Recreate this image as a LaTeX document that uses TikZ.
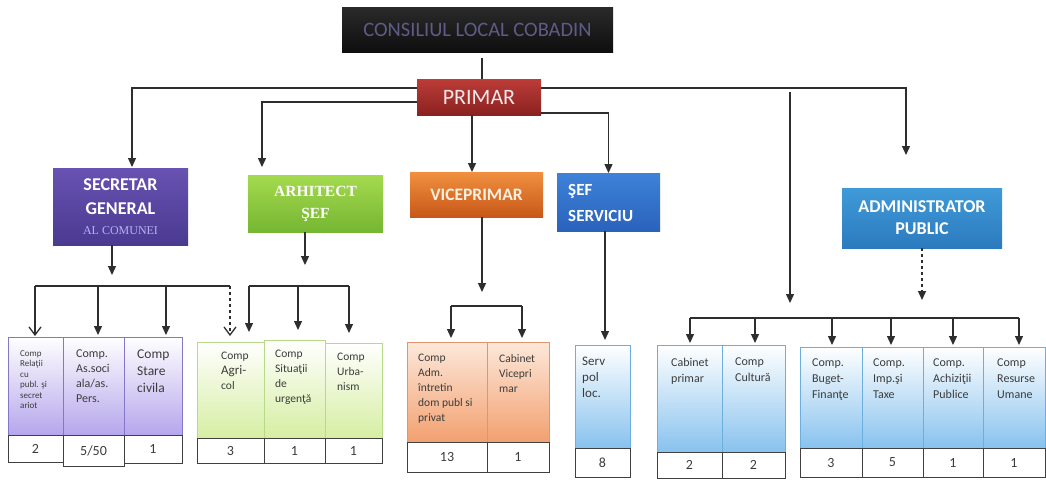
\documentclass[tikz,border=0pt]{standalone}
\usepackage{fontspec}
\setmainfont{Carlito}
\newfontfamily\serifft{Liberation Serif}
\usetikzlibrary{arrows.meta,calc}
\definecolor{linec}{HTML}{2E2E2E}
\definecolor{titletop}{HTML}{2A2A2A}
\definecolor{titlebot}{HTML}{0E0E0E}
\definecolor{titletxt}{HTML}{5E5C86}
\definecolor{primtop}{HTML}{BC3C38}
\definecolor{primbot}{HTML}{8A2220}
\definecolor{secrtop}{HTML}{6852B2}
\definecolor{secrbot}{HTML}{4A3A90}
\definecolor{comunei}{HTML}{B8B0F2}
\definecolor{arhtop}{HTML}{A4DA4E}
\definecolor{arhbot}{HTML}{76B632}
\definecolor{vicetop}{HTML}{F09040}
\definecolor{vicebot}{HTML}{C85818}
\definecolor{seftop}{HTML}{3E82D8}
\definecolor{sefbot}{HTML}{2A62BC}
\definecolor{admtop}{HTML}{409AD8}
\definecolor{admbot}{HTML}{2B7BBE}
\definecolor{purbot}{HTML}{B5A6EC}
\definecolor{purbrd}{HTML}{8576C8}
\definecolor{grnbot}{HTML}{D6EEA2}
\definecolor{grnbrd}{HTML}{B6DA86}
\definecolor{ortop}{HTML}{FDE8DA}
\definecolor{orbot}{HTML}{F2A070}
\definecolor{orbrd}{HTML}{E2946A}
\definecolor{blbot}{HTML}{88C2EE}
\definecolor{blbrd}{HTML}{6CAEDE}
\definecolor{numbrd}{HTML}{404040}
\definecolor{celltxt}{HTML}{3C3C3C}
\newcommand\orgcell[9]{%
  \node[cell,#6,minimum width=#4pt,minimum height=#5pt] (#1) at (#2,#3) {};
  \node[celltext,font=#8] (#1t) at ([#7]#1.north west) {#9};}
\newcommand\numcell[6]{%
  \node[numc,minimum width=#4pt,minimum height=#5pt] (#1) at (#2,#3) {#6};}
\begin{document}
\begin{tikzpicture}[x=1pt,y=-1pt,
  conn/.style={draw=linec,line width=1.3pt},
  arr/.style={conn,-{Triangle[length=9pt,width=8pt]}},
  oarr/.style={conn,-{Straight Barb[length=8pt,width=12pt]}},
  head/.style={anchor=north west,inner sep=0pt,outer sep=0pt,text=white,align=center,
    font=\bfseries\fontsize{15.5}{24}\selectfont},
  cell/.style={anchor=north west,inner sep=0pt,outer sep=0pt,line width=0.9pt},
  purc/.style={draw=purbrd,top color=white,bottom color=purbot},
  grnc/.style={draw=grnbrd,top color=white,bottom color=grnbot},
  orc/.style={draw=orbrd,top color=ortop,bottom color=orbot},
  blc/.style={draw=blbrd,top color=white,bottom color=blbot},
  celltext/.style={anchor=north west,inner sep=0pt,align=left,text=celltxt},
  numc/.style={anchor=north west,inner sep=0pt,outer sep=0pt,draw=numbrd,fill=white,
    line width=1pt,text=celltxt,font=\fontsize{14}{14}\selectfont}]
\useasboundingbox[fill=white] (0,0) rectangle (1046,479);

% ---------- top level ----------
\node[head,top color=titletop,bottom color=titlebot,minimum width=271pt,minimum height=45pt,
  text=titletxt,font=\fontsize{20.5}{20.5}\selectfont] (title) at (342,7) {CONSILIUL LOCAL COBADIN};
\node[head,top color=primtop,bottom color=primbot,minimum width=124pt,minimum height=36pt,
  text={rgb,255:red,246;green,232;blue,232},font=\fontsize{22}{22}\selectfont] (primar) at (417,79) {PRIMAR};

% ---------- second level ----------
\node[head,top color=secrtop,bottom color=secrbot,minimum width=135pt,minimum height=77pt,
  font=\bfseries\fontsize{18}{24}\selectfont] (secretar) at (53,168)
  {SECRETAR\\GENERAL\\[-4pt]{\serifft\mdseries\fontsize{12}{12}\selectfont\color{comunei}AL COMUNEI}};
\node[head,top color=arhtop,bottom color=arhbot,minimum width=135pt,minimum height=57pt,
  font=\serifft\bfseries\fontsize{15.5}{22}\selectfont] (arhitect) at (248,175) {ARHITECT\\ŞEF};
\node[head,top color=vicetop,bottom color=vicebot,minimum width=133pt,minimum height=45pt,
  font=\bfseries\fontsize{17.5}{20}\selectfont,
  text={rgb,255:red,250;green,240;blue,226}] (vice) at (410,172) {VICEPRIMAR};
\node[head,top color=seftop,bottom color=sefbot,minimum width=103pt,minimum height=58pt] (sef) at (557,173) {};
\node[anchor=west,inner sep=0pt,align=left,text=white,font=\bfseries\fontsize{17}{26}\selectfont]
  (seft) at ([xshift=11pt,yshift=-1pt]sef.west) {ŞEF\\SERVICIU};
\node[head,top color=admtop,bottom color=admbot,minimum width=160pt,minimum height=60pt,
  font=\bfseries\fontsize{18}{22}\selectfont] (admin) at (842,188) {ADMINISTRATOR\\PUBLIC};

% ---------- bottom cells ----------
\orgcell{s1}{8}{337}{55}{98}{purc}{xshift=12pt,yshift=-13pt}{\fontsize{9}{10.5}\selectfont}{Comp\\Relaţii\\cu\\publ. şi\\secret\\ariot}
\orgcell{s2}{63}{337}{61}{98}{purc}{xshift=13pt,yshift=-13pt}{\fontsize{12}{15}\selectfont}{Comp.\\As.soci\\ala/as.\\Pers.}
\orgcell{s3}{124}{337}{58}{98}{purc}{xshift=13pt,yshift=-13pt}{\fontsize{13.5}{17}\selectfont}{Comp\\Stare\\civila}
\numcell{ns1}{8}{435}{55}{27}{2}
\numcell{ns2}{63}{435}{61}{31}{5/50}
\numcell{ns3}{124}{435}{58}{28}{1}

\orgcell{a1}{197}{342}{67}{96}{grnc}{xshift=24pt,yshift=-10pt}{\fontsize{11.5}{15}\selectfont}{Comp\\{\fontsize{13}{15}\selectfont Agri-}\\col}
\orgcell{a2}{264}{340}{61}{98}{grnc}{xshift=11pt,yshift=-10pt}{\fontsize{11.5}{15}\selectfont}{Comp\\Situaţii\\de\\urgenţă}
\orgcell{a3}{325}{343}{57}{95}{grnc}{xshift=12pt,yshift=-10pt}{\fontsize{11.5}{15}\selectfont}{Comp\\Urba-\\nism}
\numcell{na1}{197}{438}{67}{25}{3}
\numcell{na2}{264}{438}{61}{25}{1}
\numcell{na3}{325}{438}{57}{25}{1}

\orgcell{v1}{407}{342}{80}{100}{orc}{xshift=11pt,yshift=-12pt}{\fontsize{11.5}{15}\selectfont}{Comp\\Adm.\\întretin\\dom publ si\\privat}
\orgcell{v2}{487}{342}{62}{100}{orc}{xshift=12pt,yshift=-12pt}{\fontsize{11.5}{15}\selectfont}{Cabinet\\Vicepri\\mar}
\numcell{nv1}{407}{442}{80}{30}{13}
\numcell{nv2}{487}{442}{62}{30}{1}

\orgcell{p1}{575}{345}{55}{103}{blc}{xshift=7pt,yshift=-12pt}{\fontsize{13}{16}\selectfont}{Serv\\pol\\loc.}
\numcell{np1}{575}{448}{55}{29}{8}

\orgcell{c1}{657}{345}{65}{107}{blc}{xshift=14pt,yshift=-13pt}{\fontsize{12}{16}\selectfont}{Cabinet\\primar}
\orgcell{c2}{722}{345}{63}{107}{blc}{xshift=13pt,yshift=-13pt}{\fontsize{12}{16}\selectfont}{Comp\\Cultură}
\orgcell{c3}{800}{347}{62}{101}{blc}{xshift=12pt,yshift=-12pt}{\fontsize{12}{16}\selectfont}{Comp.\\Buget-\\Finanţe}
\orgcell{c4}{862}{347}{61}{101}{blc}{xshift=11pt,yshift=-12pt}{\fontsize{12}{16}\selectfont}{Comp.\\Imp.şi\\Taxe}
\orgcell{c5}{923}{347}{60}{101}{blc}{xshift=10pt,yshift=-12pt}{\fontsize{12}{16}\selectfont}{Comp.\\Achiziţii\\Publice}
\orgcell{c6}{983}{347}{62}{101}{blc}{xshift=14pt,yshift=-12pt}{\fontsize{12}{16}\selectfont}{Comp\\Resurse\\Umane}
\numcell{nc1}{657}{452}{65}{26}{2}
\numcell{nc2}{722}{452}{63}{26}{2}
\numcell{nc3}{800}{448}{62}{29}{3}
\numcell{nc4}{862}{448}{61}{29}{5}
\numcell{nc5}{923}{448}{60}{29}{1}
\numcell{nc6}{983}{448}{62}{29}{1}

% ---------- coordinates ----------
\coordinate (pTop) at (482,58);
\coordinate (secTip) at (132,167);
\coordinate (arhTip) at (262,167);
\coordinate (admTip) at (906,155);
\coordinate (midTop) at (790,88);
\coordinate (midTip) at (790,303);
\coordinate (admDash) at (922,300);
\coordinate (sDown) at (112,275);
\coordinate (sb1) at (35,286);
\coordinate (sb2) at (98,286);
\coordinate (sb3) at (166,286);
\coordinate (sb4) at (230,286);
\coordinate (aDown) at (305,265);
\coordinate (ab1) at (249,286);
\coordinate (ab2) at (298,286);
\coordinate (ab3) at (349,286);
\coordinate (vDown) at (482,292);
\coordinate (vb1) at (451,306);
\coordinate (vb2) at (522,306);
\coordinate (pTip) at (605,340);
\coordinate (cb1) at (690,318);
\coordinate (cb2) at (755,318);
\coordinate (cb3) at (832,318);
\coordinate (cb4) at (891,318);
\coordinate (cb5) at (953,318);
\coordinate (cb6) at (1019,318);

% ---------- connectors from the top ----------
\draw[conn] (pTop) -- (pTop |- primar.north);
\draw[arr] ([yshift=9pt]primar.west) -| (secTip);
\draw[arr] ([yshift=-5pt]primar.west) -| (arhTip);
\draw[arr] ([xshift=-7pt]primar.south) -- ([xshift=-7pt]primar.south |- vice.north);
\draw[arr] ([yshift=9pt]primar.east) -| (admTip);
\draw[arr] ([yshift=-16pt]primar.east) -| (sef.north);
\draw[arr] ([yshift=-4pt]midTop) -- (midTip);
\draw[arr,dashed] (admin.south -| admDash) -- (admDash);

% ---------- secretar group ----------
\draw[arr] (secretar.south -| sDown) -- (sDown);
\draw[conn] (sb1) -- (sb4);
\draw[oarr,shorten >=1pt] (sb1) -- (sb1 |- s1.north);
\draw[arr,shorten >=2pt] (sb2) -- (sb2 |- s2.north);
\draw[arr,shorten >=2pt] (sb3) -- (sb3 |- s3.north);
\draw[oarr,dashed,shorten >=6pt] (sb4) -- (sb4 |- a1.north);

% ---------- arhitect group ----------
\draw[arr] (arhitect.south -| aDown) -- (aDown);
\draw[conn] (ab1) -- (ab3);
\draw[arr,shorten >=10pt] (ab1) -- (ab1 |- a1.north);
\draw[arr,shorten >=10pt] (ab2) -- (ab2 |- a2.north);
\draw[arr,shorten >=10pt] (ab3) -- (ab3 |- a3.north);

% ---------- viceprimar group ----------
\draw[arr] (vice.south -| vDown) -- (vDown);
\draw[conn] (vb1) -- (vb2);
\draw[arr,shorten >=4pt] (vb1) -- (vb1 |- v1.north);
\draw[arr,shorten >=4pt] (vb2) -- (vb2 |- v2.north);

% ---------- sef serviciu ----------
\draw[arr] (sef.south -| pTip) -- (pTip);

% ---------- right group ----------
\draw[conn] (cb1) -- (cb6);
\draw[arr,shorten >=2pt] (cb1) -- (cb1 |- c1.north);
\draw[arr,shorten >=2pt] (cb2) -- (cb2 |- c2.north);
\draw[arr,shorten >=2pt] (cb3) -- (cb3 |- c3.north);
\draw[arr,shorten >=2pt] (cb4) -- (cb4 |- c4.north);
\draw[arr,shorten >=2pt] (cb5) -- (cb5 |- c5.north);
\draw[arr,shorten >=2pt] (cb6) -- (cb6 |- c6.north);
\end{tikzpicture}
\end{document}
